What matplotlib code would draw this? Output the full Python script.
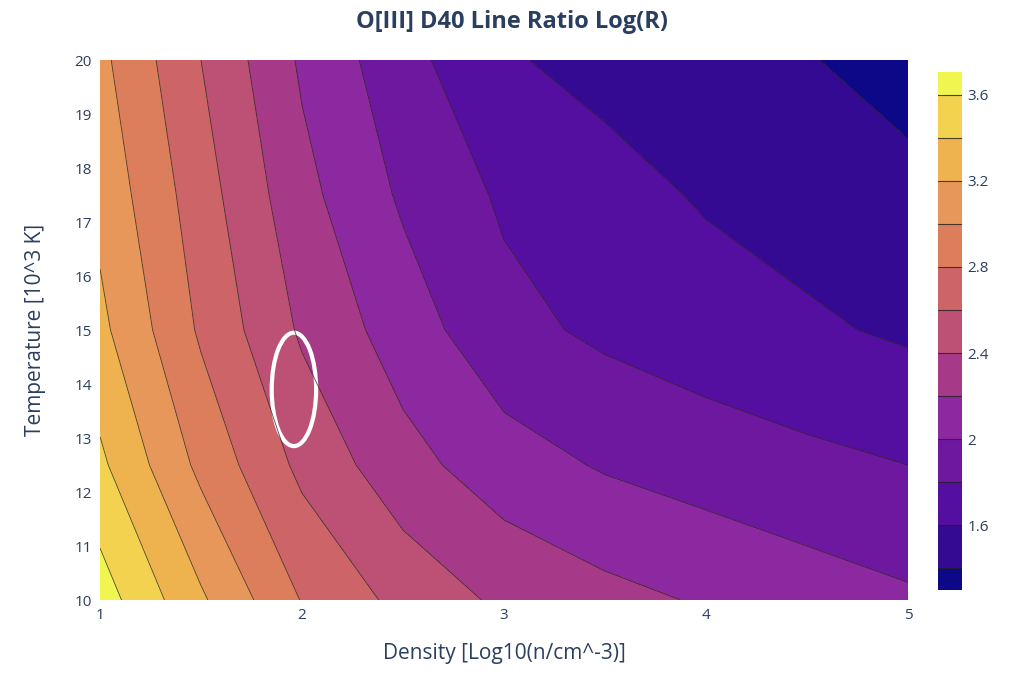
import numpy as np
import matplotlib
matplotlib.use("Agg")
import matplotlib.pyplot as plt
from matplotlib.patches import Ellipse
from matplotlib.colors import ListedColormap, BoundaryNorm

plt.rcParams["font.family"] = "Open Sans"

density = [1, 1.5, 2, 2.5, 3, 3.5, 4, 4.5, 5]
temperature = [10, 12.5, 15, 17.5, 20]
logR = [
    [3.70, 3.23, 2.79, 2.54, 2.36, 2.26, 2.18, 2.10, 2.03],
    [3.44, 2.95, 2.55, 2.27, 2.09, 1.98, 1.91, 1.85, 1.80],
    [3.25, 2.77, 2.37, 2.10, 1.86, 1.76, 1.69, 1.63, 1.57],
    [3.14, 2.69, 2.26, 1.97, 1.77, 1.67, 1.58, 1.52, 1.45],
    [3.05, 2.60, 2.17, 1.87, 1.62, 1.54, 1.47, 1.41, 1.33],
]
band_colors = ["#0d0887", "#350a92", "#540fa0", "#6e18a0", "#8c28a0", "#a63a88",
               "#bd5075", "#cc6468", "#dc7e5c", "#e8975a", "#eeb24f", "#f2d24f", "#f0f550"]
levels = [1.3] + [round(1.4 + 0.2 * i, 1) for i in range(12)] + [3.705]

cmap = ListedColormap(band_colors)
norm = BoundaryNorm(levels, cmap.N)

fig = plt.figure(figsize=(10.24, 6.81), dpi=100)
ax = fig.add_axes([100/1024, 81/681, 808/1024, 540/681])
cax = fig.add_axes([938/1024, 1 - 590/681, 24/1024, 518/681])
X, Y = np.meshgrid(density, temperature)
Z = np.array(logR)
cf = ax.contourf(X, Y, Z, levels=levels, cmap=cmap, norm=norm)
ax.contour(X, Y, Z, levels=levels[1:-1], colors="#222222", linewidths=0.6, alpha=0.8)
ax.add_patch(Ellipse((1.96, 13.9), 0.22, 2.1, fill=False, ec="white", lw=3))
ax.set_xlim(1, 5); ax.set_ylim(10, 20)
ax.set_xticks([1, 2, 3, 4, 5]); ax.set_yticks(range(10, 21))
for s in ax.spines.values(): s.set_visible(False)
ax.tick_params(length=0, labelcolor="#2a3f5f", labelsize=11, pad=6)
ax.set_xlabel("Density [Log10(n/cm^-3)]", fontsize=15, color="#2a3f5f", labelpad=14)
ax.set_ylabel("Temperature [10^3 K]", fontsize=15, color="#2a3f5f", labelpad=20)
fig.suptitle("O[III] D40 Line Ratio Log(R)", fontsize=17, fontweight="bold", color="#2a3f5f", y=0.985)
cb = fig.colorbar(cf, cax=cax, ticks=[1.6, 2, 2.4, 2.8, 3.2, 3.6], spacing="proportional")
cb.ax.set_yticklabels(["1.6", "2", "2.4", "2.8", "3.2", "3.6"])
cb.outline.set_visible(False)
cax.minorticks_off()
for l in levels[1:-1]:
    cax.axhline(l, color="#222222", lw=0.8, alpha=0.8, zorder=10)
cax.tick_params(which="both", length=0, labelcolor="#2a3f5f", labelsize=11, pad=4)
fig.savefig("out.png")
